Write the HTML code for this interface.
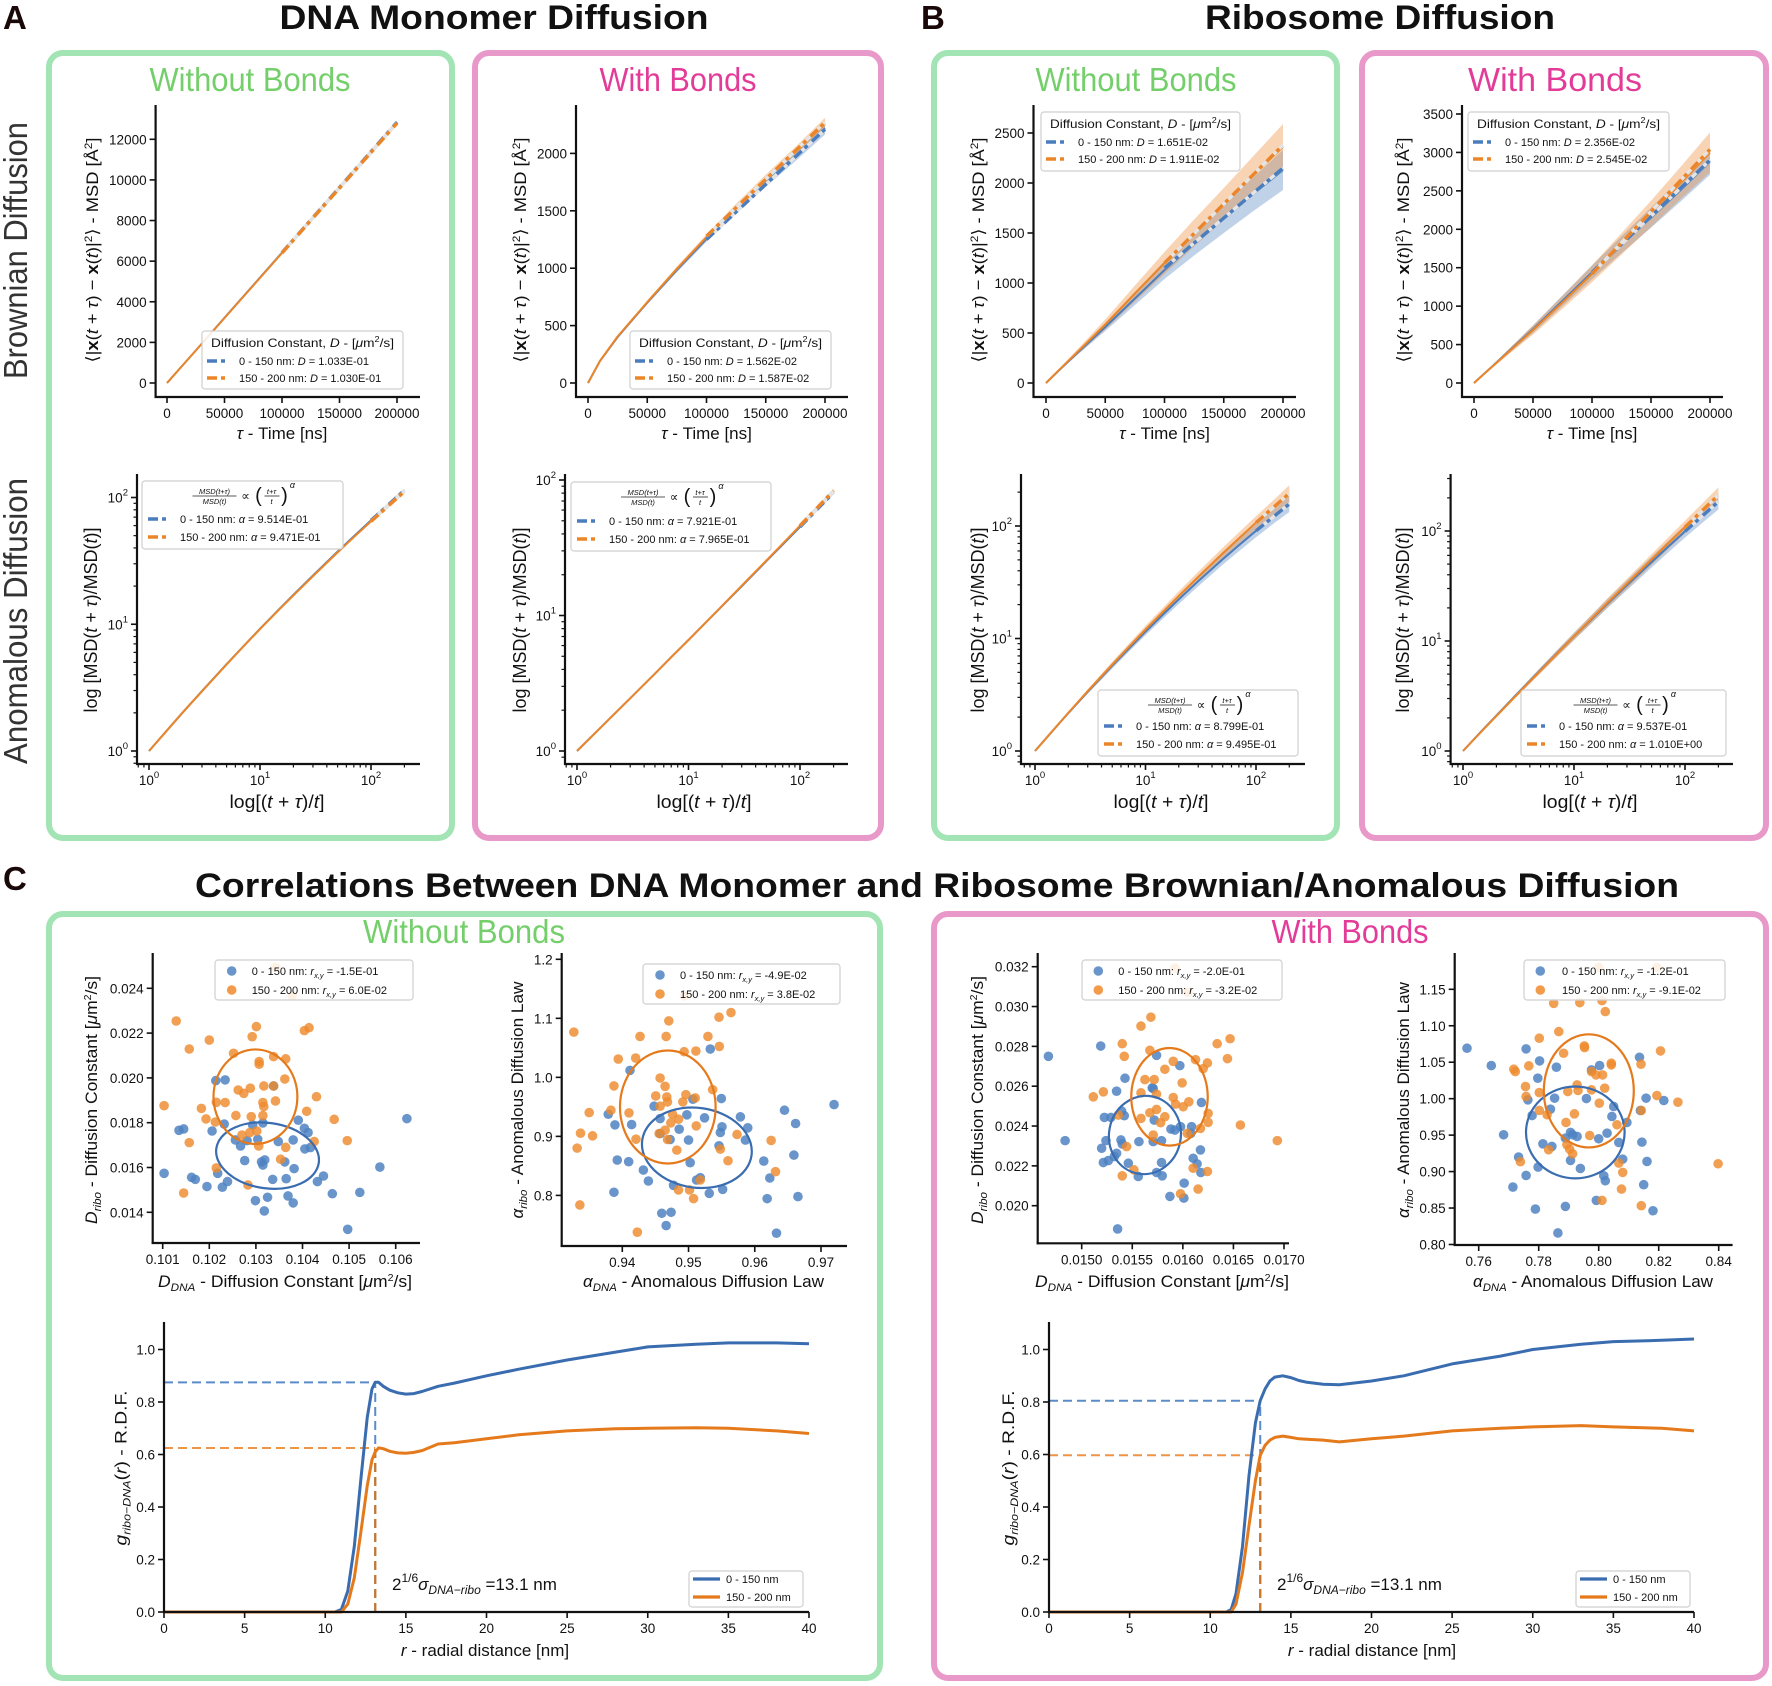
<!DOCTYPE html>
<html><head><meta charset="utf-8"><title>DNA Monomer and Ribosome Diffusion</title>
<style>
html,body{margin:0;padding:0;background:#fff;}
svg{display:block;font-family:"Liberation Sans","DejaVu Sans",sans-serif;}
</style></head>
<body>
<svg id="fig" xmlns="http://www.w3.org/2000/svg" width="1772" height="1686" viewBox="0 0 1772 1686">
<rect x="0" y="0" width="1772" height="1686" fill="#fff"/>
<g fill="none" stroke-width="6">
<rect x="49" y="53" width="403" height="785" rx="14" stroke="#a2e4b4"/>
<rect x="475" y="53" width="406" height="785" rx="14" stroke="#e898c9"/>
<rect x="934" y="53" width="403" height="785" rx="14" stroke="#a2e4b4"/>
<rect x="1362" y="53" width="404" height="785" rx="14" stroke="#e898c9"/>
<rect x="49" y="914" width="831" height="764" rx="14" stroke="#a2e4b4"/>
<rect x="934" y="914" width="832" height="764" rx="14" stroke="#e898c9"/>
</g>
<g font-weight="bold" fill="#111">
<text x="3" y="29" font-size="33" fill="#1a0808">A</text>
<text x="921" y="29" font-size="33" fill="#1a0808">B</text>
<text x="3" y="890" font-size="33" fill="#1a0808">C</text>
<text x="494" y="29" font-size="34" text-anchor="middle" textLength="429" lengthAdjust="spacingAndGlyphs">DNA Monomer Diffusion</text>
<text x="1380" y="29" font-size="34" text-anchor="middle" textLength="350" lengthAdjust="spacingAndGlyphs">Ribosome Diffusion</text>
<text x="937" y="897" font-size="34" text-anchor="middle" textLength="1484" lengthAdjust="spacingAndGlyphs">Correlations Between DNA Monomer and Ribosome Brownian/Anomalous Diffusion</text>
</g>
<g font-size="33">
<text x="250" y="91" text-anchor="middle" fill="#74cf6b" textLength="201" lengthAdjust="spacingAndGlyphs">Without Bonds</text>
<text x="678" y="91" text-anchor="middle" fill="#e23c98" textLength="157" lengthAdjust="spacingAndGlyphs">With Bonds</text>
<text x="1136" y="91" text-anchor="middle" fill="#74cf6b" textLength="201" lengthAdjust="spacingAndGlyphs">Without Bonds</text>
<text x="1555" y="91" text-anchor="middle" fill="#e23c98" textLength="174" lengthAdjust="spacingAndGlyphs">With Bonds</text>
<text x="464" y="943" text-anchor="middle" fill="#74cf6b" textLength="202" lengthAdjust="spacingAndGlyphs">Without Bonds</text>
<text x="1350" y="943" text-anchor="middle" fill="#e23c98" textLength="157" lengthAdjust="spacingAndGlyphs">With Bonds</text>
<text transform="translate(27,250.5) rotate(-90)" text-anchor="middle" fill="#333" textLength="257" lengthAdjust="spacingAndGlyphs">Brownian Diffusion</text>
<text transform="translate(27,621) rotate(-90)" text-anchor="middle" fill="#333" textLength="286" lengthAdjust="spacingAndGlyphs">Anomalous Diffusion</text>
</g>
<g id="charts"></g>
</svg>
<script>
// ---------- MSD (Brownian) data ----------
const msdT = [0, 10000, 25000, 50000, 75000, 100000, 125000, 150000, 175000, 200000];
const aNoBlue = [0, 640, 1600, 3210, 4815, 6420, 8025, 9630, 11235, 12840];
const aNoOrange = [0, 640, 1600, 3200, 4800, 6400, 8000, 9600, 11200, 12800];
const aNoSpread = [0, 5, 12, 25, 35, 45, 55, 65, 78, 90];
const aBdBlue = [0, 190, 400, 700, 985, 1255, 1510, 1750, 1980, 2220];
const aBdOrange = [0, 192, 405, 705, 995, 1270, 1530, 1775, 2010, 2255];
const aBdSpread = [0, 3, 7, 15, 20, 25, 32, 40, 47, 55];
const bNoBlue = [0, 115, 285, 560, 845, 1130, 1390, 1640, 1890, 2130];
const bNoOrange = [0, 118, 292, 585, 895, 1200, 1500, 1790, 2080, 2360];
const bNoBlueSpread = [0, 8, 20, 40, 65, 90, 115, 140, 170, 200];
const bNoOrangeSpread = [0, 10, 25, 50, 80, 110, 135, 160, 190, 230];
const bBdBlue = [0, 140, 350, 700, 1070, 1440, 1800, 2150, 2510, 2880];
const bBdOrange = [0, 138, 345, 690, 1050, 1420, 1810, 2200, 2600, 3000];
const bBdBlueSpread = [0, 10, 25, 50, 70, 90, 110, 130, 150, 170];
const bBdOrangeSpread = [0, 12, 30, 60, 85, 110, 140, 170, 210, 260];
const fitT = [100000, 200000];
const aNoFitB = [6420, 12840];
const aNoFitO = [6400, 12800];
const aBdFitB = [1250, 2210];
const aBdFitO = [1280, 2270];
const bNoFitB = [1150, 2150];
const bNoFitO = [1200, 2380];
const bBdFitB = [1440, 2900];
const bBdFitO = [1420, 3040];
const msdXTicks = [0, 50000, 100000, 150000, 200000];
const aNoYTicks = [0, 2000, 4000, 6000, 8000, 10000, 12000];
const aBdYTicks = [0, 500, 1000, 1500, 2000];
const bNoYTicks = [0, 500, 1000, 1500, 2000, 2500];
const bBdYTicks = [0, 500, 1000, 1500, 2000, 2500, 3000, 3500];
const dLabelsANo = ['1.033E-01', '1.030E-01'];
const dLabelsABd = ['1.562E-02', '1.587E-02'];
const dLabelsBNo = ['1.651E-02', '1.911E-02'];
const dLabelsBBd = ['2.356E-02', '2.545E-02'];

// ---------- Anomalous (log) data ----------
const logX = [1, 1.5, 2, 3, 5, 7, 10, 15, 20, 30, 50, 70, 100, 150, 200];
const aNoLogB = [1, 1.5, 2.0, 2.97, 4.84, 6.63, 9.2, 13.25, 17.08, 24.3, 37.4, 49.4, 66.0, 91.1, 114];
const aNoLogO = [1, 1.5, 2.0, 2.96, 4.82, 6.6, 9.15, 13.15, 16.9, 24.0, 36.9, 48.6, 64.8, 89.3, 111.5];
const aBdLogB = [1, 1.39, 1.76, 2.45, 3.72, 4.92, 6.6, 9.23, 11.73, 16.43, 25.2, 33.4, 45.1, 63.5, 81];
const aBdLogO = [1, 1.39, 1.76, 2.45, 3.72, 4.92, 6.6, 9.25, 11.79, 16.6, 25.45, 33.9, 46.0, 65.1, 83.4];
const bNoLogB = [1, 1.58, 2.17, 3.36, 5.73, 8.07, 11.5, 17.0, 22.3, 32.3, 50.7, 67.5, 90.7, 125.7, 157];
const bNoLogO = [1, 1.58, 2.18, 3.40, 5.85, 8.32, 12.0, 18.0, 23.9, 35.3, 57.1, 77.6, 106.9, 152.4, 195];
const bBdLogB = [1, 1.55, 2.10, 3.22, 5.45, 7.68, 11.0, 16.4, 21.8, 32.2, 52.2, 71.5, 99.2, 143, 185];
const bBdLogO = [1, 1.54, 2.08, 3.18, 5.40, 7.64, 11.0, 16.6, 22.2, 33.2, 55.1, 76.7, 108.6, 161, 212];
const logSpreadSmall = [1, 1.002, 1.003, 1.005, 1.007, 1.008, 1.01, 1.012, 1.013, 1.015, 1.018, 1.02, 1.02, 1.025, 1.03];
const logSpreadB = [1, 1.02, 1.03, 1.04, 1.06, 1.07, 1.08, 1.09, 1.1, 1.11, 1.12, 1.13, 1.14, 1.16, 1.18];
const logFitX = [100, 200];
const logMajor = [1, 10, 100];
const logMajorExp = ['0', '1', '2'];
const alphaANo = ['9.514E-01', '9.471E-01'];
const alphaABd = ['7.921E-01', '7.965E-01'];
const alphaBNo = ['8.799E-01', '9.495E-01'];
const alphaBBd = ['9.537E-01', '1.010E+00'];

// ---------- Scatter data (without bonds, D) ----------
const s1BlueX = [0.10103,0.10162,0.10170,0.10195,0.10228,0.10239,0.10218,0.10276,0.10312,0.10319,0.10315,0.10336,0.10365,0.10382,0.10362,0.10432,0.10445,0.10464,0.10523,0.10566,0.10299,0.10325,0.10369,0.10380,0.10318,0.10497,0.10624,0.10135,0.10145,0.10206,0.10232,0.10214,0.10234,0.10338,0.10267,0.10256,0.10304,0.10348,0.10380,0.10391,0.10404,0.10412,0.10405,0.10417,0.10315,0.10293,0.10281];
const s1BlueY = [0.01574,0.01556,0.01547,0.01515,0.01512,0.01537,0.01574,0.01631,0.01625,0.01634,0.01611,0.01547,0.01550,0.01595,0.01625,0.01537,0.01562,0.01483,0.01489,0.01602,0.01452,0.01467,0.01473,0.01442,0.01406,0.01324,0.01818,0.01766,0.01772,0.01763,0.01794,0.01988,0.01991,0.01964,0.01696,0.01723,0.01726,0.01716,0.01723,0.01811,0.01775,0.01756,0.01683,0.01689,0.01799,0.01790,0.01720];
const s1OrangeX = [0.10129,0.10157,0.10200,0.10292,0.10301,0.10404,0.10414,0.10252,0.10338,0.10364,0.10307,0.10307,0.10362,0.10317,0.10338,0.10262,0.10274,0.10288,0.10215,0.10234,0.10315,0.10317,0.10342,0.10430,0.10103,0.10183,0.10193,0.10213,0.10257,0.10290,0.10315,0.10409,0.10468,0.10496,0.10270,0.10287,0.10302,0.10157,0.10425,0.10306,0.10364,0.10353,0.10215,0.10283,0.10145,0.10343,0.10378];
const s1OrangeY = [0.02254,0.02129,0.02169,0.02184,0.02229,0.02211,0.02224,0.02110,0.02095,0.02085,0.02073,0.02061,0.01995,0.01964,0.01964,0.01946,0.01931,0.01954,0.01891,0.01890,0.01890,0.01872,0.01897,0.01916,0.01876,0.01864,0.01817,0.01803,0.01832,0.01827,0.01832,0.01851,0.01815,0.01720,0.01745,0.01756,0.01763,0.01711,0.01716,0.01696,0.01690,0.01637,0.01598,0.01522,0.01486,0.02494,0.02367];
const s1Ellipses = [[0.10325, 0.01653, 0.00111, 0.00146, 8], [0.10299, 0.01916, 0.00090, 0.00211, 0]];
const s1Corr = ['-1.5E-01', '6.0E-02'];
const s1XTicks = [0.101, 0.102, 0.103, 0.104, 0.105, 0.106];
const s1YTicks = [0.014, 0.016, 0.018, 0.020, 0.022, 0.024];

// ---------- Scatter data (without bonds, alpha) ----------
const s2BlueX = [0.97197,0.96449,0.96616,0.95783,0.95894,0.95859,0.96591,0.96136,0.96227,0.96652,0.96187,0.96328,0.95495,0.95505,0.95480,0.95460,0.95242,0.94975,0.95000,0.95025,0.95066,0.94480,0.94571,0.94859,0.94722,0.94571,0.94141,0.93889,0.93788,0.94116,0.95328,0.93924,0.94096,0.94318,0.94394,0.93874,0.94773,0.95121,0.95177,0.95515,0.95313,0.94596,0.94737,0.94662];
const s2BlueY = [0.9539,0.9443,0.9218,0.9331,0.9145,0.8937,0.8683,0.8582,0.8295,0.7980,0.7945,0.7360,0.9641,0.9162,0.9066,0.8841,0.9314,0.9365,0.8937,0.8554,0.9630,0.9511,0.9302,0.9122,0.8947,0.9048,0.9200,0.9195,0.9375,1.0118,1.0480,0.8599,0.8571,0.8430,0.8244,0.8053,0.8171,0.8261,0.8300,0.8103,0.8035,0.7697,0.7714,0.7489];
const s2OrangeX = [0.93268,0.94268,0.94662,0.94702,0.95460,0.95641,0.95293,0.95465,0.94934,0.95111,0.93939,0.94202,0.93874,0.94571,0.94646,0.94505,0.94672,0.94960,0.95101,0.95364,0.94914,0.94571,0.94682,0.93828,0.94101,0.93500,0.93369,0.93551,0.93318,0.94207,0.94556,0.94646,0.94682,0.94823,0.94758,0.94848,0.94732,0.95116,0.95732,0.96247,0.95596,0.95480,0.96313,0.95177,0.94848,0.95015,0.95076,0.93359,0.94227,0.94939];
const s2OrangeY = [1.0766,1.0693,1.0693,1.0957,1.1019,1.1098,1.0693,1.0524,1.0434,1.0446,1.0310,1.0327,0.9855,0.9989,0.9848,0.9685,0.9668,0.9707,0.9651,0.9792,0.9584,0.9511,0.9584,0.9443,0.9398,0.9403,0.9054,0.9009,0.8801,0.8953,0.9048,0.9105,0.8947,0.8767,0.9375,0.9291,0.9229,0.9178,0.9032,0.8931,0.8587,0.8784,0.8402,0.8261,0.8092,0.8092,0.7945,0.7838,0.7377,1.1380];
const s2Ellipses = [[0.95126, 0.8807, 0.00833, 0.0676, 8], [0.94687, 0.9498, 0.00722, 0.0957, 0]];
const s2Corr = ['-4.9E-02', '3.8E-02'];
const s2XTicks = [0.94, 0.95, 0.96, 0.97];
const s2YTicks = [0.8, 0.9, 1.0, 1.1, 1.2];

// ---------- Scatter data (with bonds, D) ----------
const s3BlueX = [0.014671,0.014836,0.015188,0.015428,0.015740,0.015970,0.015345,0.015707,0.016184,0.015395,0.015224,0.015289,0.015421,0.015240,0.015388,0.015401,0.015197,0.015345,0.015214,0.015263,0.015322,0.015461,0.015566,0.015707,0.015789,0.015717,0.015882,0.015921,0.015977,0.016086,0.016079,0.016174,0.016102,0.016141,0.016178,0.015559,0.015740,0.015796,0.015789,0.016013,0.015872,0.016010,0.015355,0.015697];
const s3BlueY = [0.027500,0.023267,0.028017,0.026400,0.027550,0.027033,0.025750,0.025883,0.025183,0.024750,0.024433,0.024433,0.024517,0.023267,0.023300,0.023100,0.022883,0.022633,0.022167,0.022267,0.022467,0.022133,0.023217,0.023217,0.023267,0.024300,0.023850,0.023800,0.023967,0.023967,0.023633,0.022800,0.022383,0.022100,0.021667,0.021467,0.021667,0.021500,0.022167,0.021133,0.020467,0.020383,0.018833,0.025917];
const s3OrangeX = [0.015684,0.015586,0.015401,0.015421,0.015674,0.015905,0.016125,0.016243,0.016339,0.016467,0.016441,0.016201,0.015822,0.015625,0.015717,0.015993,0.015740,0.015905,0.015928,0.016003,0.016059,0.015586,0.015214,0.015115,0.015362,0.015674,0.015740,0.015822,0.015780,0.015586,0.016250,0.016250,0.016174,0.016043,0.015707,0.016569,0.016934,0.015444,0.015516,0.015401,0.016102,0.016243,0.016151,0.015977,0.015921,0.016053];
const s3OrangeY = [0.029467,0.029017,0.028133,0.027500,0.027800,0.027250,0.027333,0.027167,0.028133,0.028383,0.027383,0.026883,0.026850,0.026333,0.026333,0.026167,0.025600,0.025433,0.025100,0.024967,0.025217,0.025667,0.025717,0.025467,0.024550,0.024667,0.024833,0.024467,0.024167,0.024383,0.024633,0.024183,0.023883,0.023633,0.023550,0.024050,0.023267,0.022967,0.021800,0.021500,0.021883,0.021717,0.020833,0.020600,0.031933,0.030717];
const s3Ellipses = [[0.015625, 0.02355, 0.000355, 0.00197, 10], [0.015868, 0.025467, 0.000378, 0.00245, 0]];
const s3Corr = ['-2.0E-01', '-3.2E-02'];
const s3XTicks = [0.0150, 0.0155, 0.0160, 0.0165, 0.0170];
const s3YTicks = [0.020, 0.022, 0.024, 0.026, 0.028, 0.030, 0.032];

// ---------- Scatter data (with bonds, alpha) ----------
const s4BlueX = [0.7561,0.7642,0.7758,0.7803,0.7859,0.8003,0.7976,0.7797,0.7764,0.7853,0.7959,0.7839,0.7778,0.7683,0.7814,0.7844,0.7906,0.7913,0.7928,0.7889,0.8000,0.8028,0.8044,0.8050,0.8094,0.8067,0.8136,0.8158,0.8217,0.8139,0.8144,0.8161,0.8080,0.7906,0.7939,0.7798,0.7733,0.7758,0.7714,0.8017,0.8022,0.8150,0.7992,0.7789,0.7889,0.8181,0.7864];
const s4BlueY = [1.0692,1.0454,1.0683,1.0518,1.0432,1.0454,1.0395,1.0281,0.9984,1.0007,1.0002,0.9856,0.9769,0.9505,0.9381,0.9345,0.9537,0.9505,0.9482,0.9459,0.9450,0.9527,0.9756,0.9893,0.9674,0.9400,1.0568,1.0007,0.9975,0.9838,0.9404,0.9139,0.9171,0.9153,0.9043,0.9062,0.9199,0.8947,0.8788,0.8943,0.8874,0.8820,0.8605,0.8486,0.8523,0.8463,0.8158];
const s4OrangeX = [0.7850,0.7937,0.8011,0.8022,0.7867,0.7802,0.7952,0.7953,0.7883,0.8042,0.8042,0.8141,0.8206,0.7717,0.7722,0.7767,0.7976,0.7991,0.8013,0.7756,0.7758,0.7802,0.7897,0.7928,0.7931,0.7976,0.8020,0.8002,0.7802,0.7828,0.7919,0.7891,0.8061,0.7970,0.8142,0.8194,0.8264,0.7833,0.7894,0.7903,0.7913,0.7739,0.8067,0.8080,0.8076,0.8011,0.8142,0.8398,0.8000,0.8194];
const s4OrangeY = [1.1308,1.1317,1.1345,1.1194,1.0920,1.0829,1.0724,1.0701,1.0623,1.0486,1.0463,1.0473,1.0655,1.0404,1.0372,1.0450,1.0372,1.0326,1.0326,1.0167,1.0030,1.0084,1.0098,1.0189,1.0112,1.0121,1.0144,0.9938,0.9838,0.9779,0.9792,0.9674,0.9642,0.9495,0.9838,1.0043,0.9952,0.9299,0.9368,0.9308,0.9244,0.9135,0.9116,0.8989,0.8760,0.8605,0.8532,0.9107,1.1801,1.1801];
const s4Ellipses = [[0.7922, 0.9537, 0.01644, 0.063, 0], [0.7967, 1.0107, 0.0150, 0.0776, 0]];
const s4Corr = ['-1.2E-01', '-9.1E-02'];
const s4XTicks = [0.76, 0.78, 0.80, 0.82, 0.84];
const s4YTicks = [0.80, 0.85, 0.90, 0.95, 1.00, 1.05, 1.10, 1.15];

// ---------- RDF data ----------
const rdfR1 = [0,10,10.6,11,11.4,11.8,12.2,12.6,12.9,13.1,13.3,13.6,14,14.5,15,15.5,16,17,18,20,22,25,28,30,33,35,38,40];
const rdfBlue1 = [0,0,0,0.01,0.08,0.25,0.5,0.74,0.85,0.875,0.875,0.86,0.845,0.835,0.83,0.832,0.84,0.86,0.872,0.90,0.925,0.96,0.99,1.01,1.02,1.025,1.025,1.022];
const rdfOrange1 = [0,0,0,0,0.03,0.13,0.3,0.48,0.58,0.61,0.625,0.622,0.612,0.606,0.605,0.608,0.615,0.64,0.645,0.66,0.675,0.69,0.698,0.70,0.702,0.70,0.69,0.68];
const rdfR2 = [0,10,11,11.3,11.6,12,12.4,12.8,13.1,13.4,13.7,14,14.5,15,15.5,16,17,18,20,22,25,28,30,33,35,38,40];
const rdfBlue2 = [0,0,0,0.01,0.07,0.25,0.52,0.72,0.805,0.85,0.88,0.895,0.9,0.893,0.882,0.875,0.868,0.866,0.88,0.90,0.945,0.975,1.0,1.02,1.03,1.035,1.04];
const rdfOrange2 = [0,0,0,0,0.03,0.15,0.33,0.5,0.597,0.635,0.655,0.665,0.67,0.665,0.66,0.658,0.655,0.648,0.66,0.67,0.69,0.70,0.705,0.71,0.705,0.70,0.69];
const rdfContact = 13.1;
const rdfPeaks1 = [0.875, 0.625];
const rdfPeaks2 = [0.805, 0.597];
const rdfXTicks = [0, 5, 10, 15, 20, 25, 30, 35, 40];
const rdfYTicks = [0, 0.2, 0.4, 0.6, 0.8, 1.0];

// ================= drawing =================
const NS = 'http://www.w3.org/2000/svg';
const root = document.getElementById('charts');
const BLUE = '#4a7dbd', ORANGE = '#ec8527', BLUE_D = '#3a6cb0', ORANGE_D = '#e57a1c';

function mk(parent, tag, attrs, name) {
  const e = document.createElementNS(NS, tag);
  for (const k in attrs) e.setAttribute(k, attrs[k]);
  
  
  parent.appendChild(e);
  return e;
}
function txt(parent, x, y, html, o, name) {
  const e = mk(parent, 'text', {x: x, y: y, 'font-size': o.size || 13.5, 'text-anchor': o.anchor || 'middle', fill: o.fill || '#111'}, name);
  if (o.rot) e.setAttribute('transform', 'rotate(-90 ' + x + ' ' + y + ')');
  if (o.len) { e.setAttribute('textLength', o.len); e.setAttribute('lengthAdjust', 'spacingAndGlyphs'); }
  if (o.style) e.setAttribute('font-style', o.style);
  e.innerHTML = html;
  return e;
}
function lin(d0, d1, p0, p1) { return v => p0 + (v - d0) * (p1 - p0) / (d1 - d0); }
function logm(p0, p10) { return v => p0 + Math.log10(v) * (p10 - p0); }
function fmt(v, d) { return v.toFixed(d); }

function axes(g, c) {
  mk(g, 'line', {x1: c.spineX, y1: c.top, x2: c.spineX, y2: c.axisY + 1, stroke: '#111', 'stroke-width': 2.2}, 'y-axis-line');
  mk(g, 'line', {x1: c.spineX - 1, y1: c.axisY, x2: c.right, y2: c.axisY, stroke: '#111', 'stroke-width': 2.2}, 'x-axis-line');
  c.xt.forEach((v, i) => {
    const x = c.sx(v);
    mk(g, 'line', {x1: x, y1: c.axisY, x2: x, y2: c.axisY + 6, stroke: '#111', 'stroke-width': 1.6}, 'x-tick');
    txt(g, x, c.axisY + 21, c.xl[i], {size: c.fs || 13.5}, 'x-tick-label');
  });
  c.yt.forEach((v, i) => {
    const y = c.sy(v);
    mk(g, 'line', {x1: c.spineX - 6, y1: y, x2: c.spineX, y2: y, stroke: '#111', 'stroke-width': 1.6}, 'y-tick');
    txt(g, c.spineX - 9, y + 5, c.yl[i], {size: c.fs || 13.5, anchor: 'end'}, 'y-tick-label');
  });
  if (c.minorX) c.minorX.forEach(v => {
    const x = c.sx(v);
    if (x > c.spineX && x < c.right) mk(g, 'line', {x1: x, y1: c.axisY, x2: x, y2: c.axisY + 3.5, stroke: '#111', 'stroke-width': 1.2}, 'x-minor-tick');
  });
  if (c.minorY) c.minorY.forEach(v => {
    const y = c.sy(v);
    if (y > c.top && y < c.axisY) mk(g, 'line', {x1: c.spineX - 3.5, y1: y, x2: c.spineX, y2: y, stroke: '#111', 'stroke-width': 1.2}, 'y-minor-tick');
  });
}
function pts(xs, ys, sx, sy) { return xs.map((v, i) => sx(v).toFixed(1) + ',' + sy(ys[i]).toFixed(1)).join(' '); }
function band(g, xs, mean, spread, sx, sy, color, mult, name) {
  const up = mean.map((m, i) => mult ? m * spread[i] : m + spread[i]);
  const lo = mean.map((m, i) => mult ? m / spread[i] : m - spread[i]);
  const p = pts(xs, up, sx, sy) + ' ' + pts(xs.slice().reverse(), lo.slice().reverse(), sx, sy);
  mk(g, 'polygon', {points: p, fill: color, 'fill-opacity': 0.35, stroke: 'none'}, name);
}
function line(g, xs, ys, sx, sy, color, w, name) {
  return mk(g, 'polyline', {points: pts(xs, ys, sx, sy), fill: 'none', stroke: color, 'stroke-width': w, 'stroke-linejoin': 'round'}, name);
}
function fitLine(g, xs, ys, sx, sy, color, name) {
  mk(g, 'polyline', {points: pts(xs, ys, sx, sy), fill: 'none', stroke: '#e4e4e4', 'stroke-width': 3.4}, name + '-underlay');
  mk(g, 'polyline', {points: pts(xs, ys, sx, sy), fill: 'none', stroke: color, 'stroke-width': 3.4, 'stroke-dasharray': '10,4,4,6'}, name);
}
function legendBox(g, x, y, w, h) {
  mk(g, 'rect', {x: x, y: y, width: w, height: h, rx: 3, fill: '#fff', 'fill-opacity': 0.85, stroke: '#cfcfcf', 'stroke-width': 1.2}, 'legend-box');
}
function legendDash(g, x, y, color) {
  mk(g, 'line', {x1: x, y1: y, x2: x + 24, y2: y, stroke: color, 'stroke-width': 3.4, 'stroke-dasharray': '10,4,4,6'}, 'legend-line');
}

const minorLog = [0.8,0.9,2,3,4,5,6,7,8,9,20,30,40,50,60,70,80,90,200,300];

function msdPanel(id, L, blue, orange, bs, os, fitB, fitO, yt, dl, lg) {
  const g = mk(root, 'g', {}, id);
  const sx = lin(0, 200000, L.x0, L.x1), sy = lin(0, L.yv, L.y0, L.y1);
  band(g, msdT, blue, bs, sx, sy, BLUE, false, 'blue-trajectory-spread');
  band(g, msdT, orange, os, sx, sy, ORANGE, false, 'orange-trajectory-spread');
  line(g, msdT, blue, sx, sy, BLUE, 2, 'blue-msd-line');
  line(g, msdT, orange, sx, sy, ORANGE, 2, 'orange-msd-line');
  fitLine(g, fitT, fitB, sx, sy, BLUE, 'blue-fit-line');
  fitLine(g, fitT, fitO, sx, sy, ORANGE, 'orange-fit-line');
  axes(g, {sx: sx, sy: sy, spineX: L.spine, axisY: 397, top: 105, right: L.right, xt: msdXTicks, xl: msdXTicks.map(String), yt: yt, yl: yt.map(String)});
  txt(g, (L.x0 + L.x1) / 2, 439, '<tspan font-style="italic">τ</tspan> - Time [ns]', {size: 17}, 'x-axis-title');
  txt(g, L.ylab + 6, 250, '⟨|<tspan font-weight="bold">x</tspan>(<tspan font-style="italic">t</tspan> + <tspan font-style="italic">τ</tspan>) − <tspan font-weight="bold">x</tspan>(<tspan font-style="italic">t</tspan>)|<tspan dy="-6" font-size="11">2</tspan><tspan dy="6">⟩ - MSD [Å</tspan><tspan dy="-6" font-size="11">2</tspan><tspan dy="6">]</tspan>', {size: 17, rot: true, len: 225}, 'y-axis-title');
  legendBox(g, lg[0], lg[1], lg[2], lg[3]);
  txt(g, lg[0] + lg[2] / 2, lg[1] + 16, 'Diffusion Constant, <tspan font-style="italic">D</tspan> - [<tspan font-style="italic">μ</tspan>m<tspan dy="-5" font-size="8">2</tspan><tspan dy="5">/s]</tspan>', {size: 12, len: lg[2] - 18}, 'legend-title');
  legendDash(g, lg[0] + 5, lg[1] + 30, BLUE);
  txt(g, lg[0] + 37, lg[1] + 34, '0 - 150 nm:  <tspan font-style="italic">D</tspan> = ' + dl[0], {size: 11, anchor: 'start'}, 'legend-entry-0-150');
  legendDash(g, lg[0] + 5, lg[1] + 47, ORANGE);
  txt(g, lg[0] + 37, lg[1] + 51, '150 - 200 nm:  <tspan font-style="italic">D</tspan> = ' + dl[1], {size: 11, anchor: 'start'}, 'legend-entry-150-200');
}

msdPanel('a-without-bonds-msd-chart', {x0: 167, x1: 397, y0: 383, y1: 139.3, yv: 12000, spine: 155.6, right: 420, ylab: 92}, aNoBlue, aNoOrange, aNoSpread, aNoSpread, aNoFitB, aNoFitO, aNoYTicks, dLabelsANo, [202, 331, 201, 58]);
msdPanel('a-with-bonds-msd-chart', {x0: 588, x1: 825, y0: 383, y1: 153.4, yv: 2000, spine: 576, right: 848, ylab: 520}, aBdBlue, aBdOrange, aBdSpread, aBdSpread, aBdFitB, aBdFitO, aBdYTicks, dLabelsABd, [630, 331, 201, 58]);
msdPanel('b-without-bonds-msd-chart', {x0: 1046, x1: 1283, y0: 383, y1: 133, yv: 2500, spine: 1033.5, right: 1296, ylab: 978}, bNoBlue, bNoOrange, bNoBlueSpread, bNoOrangeSpread, bNoFitB, bNoFitO, bNoYTicks, dLabelsBNo, [1041, 112, 199, 59]);
msdPanel('b-with-bonds-msd-chart', {x0: 1474, x1: 1710, y0: 383, y1: 114, yv: 3500, spine: 1462, right: 1723, ylab: 1403}, bBdBlue, bBdOrange, bBdBlueSpread, bBdOrangeSpread, bBdFitB, bBdFitO, bBdYTicks, dLabelsBBd, [1468, 112, 201, 59]);

function logPanel(id, L, blue, orange, spread, al, lg, fy) {
  const g = mk(root, 'g', {}, id);
  const sx = logm(L.x0, L.x10), sy = logm(L.y0, L.y10);
  band(g, logX, blue, spread, sx, sy, BLUE, true, 'blue-trajectory-spread');
  band(g, logX, orange, spread, sx, sy, ORANGE, true, 'orange-trajectory-spread');
  line(g, logX, blue, sx, sy, BLUE, 2, 'blue-log-line');
  line(g, logX, orange, sx, sy, ORANGE, 2, 'orange-log-line');
  const n = logX.length;
  fitLine(g, logFitX, [blue[n - 3], blue[n - 1]], sx, sy, BLUE, 'blue-fit-line');
  fitLine(g, logFitX, [orange[n - 3], orange[n - 1]], sx, sy, ORANGE, 'orange-fit-line');
  const lab = logMajorExp.map(e => '10<tspan dy="-7" font-size="9.5">' + e + '</tspan>');
  axes(g, {sx: sx, sy: sy, spineX: L.spine, axisY: 764, top: 474, right: L.right, xt: logMajor, xl: lab, yt: logMajor, yl: lab, minorX: minorLog, minorY: minorLog});
  txt(g, L.xlab, 808, 'log[(<tspan font-style="italic">t</tspan> + <tspan font-style="italic">τ</tspan>)/<tspan font-style="italic">t</tspan>]', {size: 18.5, len: 95}, 'x-axis-title');
  txt(g, L.ylab + 6, 620, 'log [MSD(<tspan font-style="italic">t</tspan> + <tspan font-style="italic">τ</tspan>)/MSD(<tspan font-style="italic">t</tspan>)]', {size: 18, rot: true, len: 185}, 'y-axis-title');
  legendBox(g, lg[0], lg[1], lg[2], lg[3]);
  const cx = lg[0] + lg[2] / 2, cy = fy;
  txt(g, cx - 28, cy - 2, 'MSD(t+τ)', {size: 7.5, style: 'italic'}, 'legend-formula-numerator');
  mk(g, 'line', {x1: cx - 50, y1: cy, x2: cx - 6, y2: cy, stroke: '#222', 'stroke-width': 0.8}, 'legend-formula-bar');
  txt(g, cx - 28, cy + 8, 'MSD(t)', {size: 7.5, style: 'italic'}, 'legend-formula-denominator');
  txt(g, cx + 3, cy + 4, '∝', {size: 12}, 'legend-formula-proportional');
  txt(g, cx + 16, cy + 6, '(', {size: 20}, 'legend-formula-paren');
  txt(g, cx + 29, cy - 2, 't+τ', {size: 7.5, style: 'italic'}, 'legend-formula-numerator');
  mk(g, 'line', {x1: cx + 22, y1: cy, x2: cx + 37, y2: cy, stroke: '#222', 'stroke-width': 0.8}, 'legend-formula-bar');
  txt(g, cx + 29, cy + 8, 't', {size: 7.5, style: 'italic'}, 'legend-formula-denominator');
  txt(g, cx + 42, cy + 6, ')', {size: 20}, 'legend-formula-paren');
  txt(g, cx + 50, cy - 8, 'α', {size: 9, style: 'italic'}, 'legend-formula-exponent');
  legendDash(g, lg[0] + 6, lg[1] + lg[3] - 30, BLUE);
  txt(g, lg[0] + 38, lg[1] + lg[3] - 26, '0 - 150 nm:  <tspan font-style="italic">α</tspan> = ' + al[0], {size: 11, anchor: 'start'}, 'legend-entry-0-150');
  legendDash(g, lg[0] + 6, lg[1] + lg[3] - 12, ORANGE);
  txt(g, lg[0] + 38, lg[1] + lg[3] - 8, '150 - 200 nm:  <tspan font-style="italic">α</tspan> = ' + al[1], {size: 11, anchor: 'start'}, 'legend-entry-150-200');
}

logPanel('a-without-bonds-log-chart', {x0: 149, x10: 260, y0: 751, y10: 624.25, spine: 137, right: 420, xlab: 277, ylab: 91}, aNoLogB, aNoLogO, logSpreadSmall, alphaANo, [142, 481, 201, 68], 496);
logPanel('a-with-bonds-log-chart', {x0: 577, x10: 688.5, y0: 751, y10: 615.5, spine: 565, right: 848, xlab: 704, ylab: 520}, aBdLogB, aBdLogO, logSpreadSmall, alphaABd, [571, 482, 200, 69], 497);
logPanel('b-without-bonds-log-chart', {x0: 1035, x10: 1145.5, y0: 751, y10: 638.5, spine: 1021, right: 1305, xlab: 1161, ylab: 978}, bNoLogB, bNoLogO, logSpreadB, alphaBNo, [1098, 690, 200, 66], 705);
logPanel('b-with-bonds-log-chart', {x0: 1463, x10: 1574, y0: 751, y10: 641, spine: 1450.6, right: 1733, xlab: 1590, ylab: 1403}, bBdLogB, bBdLogO, logSpreadB, alphaBBd, [1521, 690, 205, 66], 705);

function scatterPanel(id, L, bx, by, ox, oy, ell, corr, xt, xd, yt, yd, xlabel, ylabel, lg) {
  const g = mk(root, 'g', {}, id);
  const sx = lin(L.xa, L.xb, L.pxa, L.pxb), sy = lin(L.ya, L.yb, L.pya, L.pyb);
  bx.forEach((v, i) => {
    mk(g, 'circle', {cx: sx(v), cy: sy(by[i]), r: 4.8, fill: '#4f83c2', 'fill-opacity': 0.85}, 'blue-point');
  });
  ox.forEach((v, i) => {
    mk(g, 'circle', {cx: sx(v), cy: sy(oy[i]), r: 4.8, fill: '#ee8a2c', 'fill-opacity': 0.82}, 'orange-point');
  });
  const cols = [BLUE_D, ORANGE_D];
  ell.forEach((e, i) => {
    const cx = sx(e[0]), cy = sy(e[1]);
    mk(g, 'ellipse', {cx: cx, cy: cy, rx: Math.abs(sx(e[0] + e[2]) - cx), ry: Math.abs(sy(e[1] + e[3]) - cy), fill: 'none', stroke: cols[i], 'stroke-width': 2.2, transform: 'rotate(' + e[4] + ' ' + cx + ' ' + cy + ')'}, i ? 'orange-confidence-ellipse' : 'blue-confidence-ellipse');
  });
  axes(g, {sx: sx, sy: sy, spineX: L.spine, axisY: L.axisY, top: 953, right: L.right, xt: xt, xl: xt.map(v => fmt(v, xd)), yt: yt, yl: yt.map(v => fmt(v, yd))});
  txt(g, L.xlabX, 1287, xlabel, {size: 16.5, len: L.xlabLen}, 'x-axis-title');
  txt(g, L.ylabX + 6, 1100, ylabel, {size: 16.5, rot: true, len: L.ylabLen}, 'y-axis-title');
  legendBox(g, lg[0], lg[1], lg[2], 40);
  mk(g, 'circle', {cx: lg[0] + lg[3], cy: lg[1] + 11, r: 4.8, fill: '#4f83c2', 'fill-opacity': 0.85}, 'legend-marker-blue');
  mk(g, 'circle', {cx: lg[0] + lg[3], cy: lg[1] + 30, r: 4.8, fill: '#ee8a2c', 'fill-opacity': 0.85}, 'legend-marker-orange');
  const rr = '<tspan font-style="italic">r</tspan><tspan font-size="7.5" dy="3" font-style="italic">x,y</tspan><tspan dy="-3"> = ';
  txt(g, lg[0] + lg[4], lg[1] + 15, '0 - 150 nm:  ' + rr + corr[0] + '</tspan>', {size: 11, anchor: 'start'}, 'legend-entry-0-150');
  txt(g, lg[0] + lg[4], lg[1] + 34, '150 - 200 nm:  ' + rr + corr[1] + '</tspan>', {size: 11, anchor: 'start'}, 'legend-entry-150-200');
}
const dLab = (d) => '<tspan font-style="italic">D</tspan><tspan font-size="11" dy="4" font-style="italic">' + d + '</tspan><tspan dy="-4"> - Diffusion Constant [</tspan><tspan font-style="italic">μ</tspan>m<tspan dy="-6" font-size="10">2</tspan><tspan dy="6">/s]</tspan>';
const aLab = (d) => '<tspan font-style="italic">α</tspan><tspan font-size="11" dy="4" font-style="italic">' + d + '</tspan><tspan dy="-4"> - Anomalous Diffusion Law</tspan>';

scatterPanel('c-without-bonds-d-scatter', {xa: 0.101, xb: 0.106, pxa: 162.7, pxb: 395.7, ya: 0.014, yb: 0.024, pya: 1212.3, pyb: 988.3, spine: 152.7, axisY: 1243, right: 420, xlabX: 285, xlabLen: 254, ylabX: 91, ylabLen: 248},
  s1BlueX, s1BlueY, s1OrangeX, s1OrangeY, s1Ellipses, s1Corr, s1XTicks, 3, s1YTicks, 3, dLab('DNA'), dLab('ribo'), [215, 960, 198, 16.7, 36.7]);
scatterPanel('c-without-bonds-alpha-scatter', {xa: 0.94, xb: 0.97, pxa: 622.3, pxb: 821, ya: 0.8, yb: 1.2, pya: 1195.4, pyb: 959.3, spine: 561.7, axisY: 1246, right: 847, xlabX: 703.5, xlabLen: 241, ylabX: 517, ylabLen: 237},
  s2BlueX, s2BlueY, s2OrangeX, s2OrangeY, s2Ellipses, s2Corr, s2XTicks, 2, s2YTicks, 1, aLab('DNA'), aLab('ribo'), [643, 964, 197, 17, 37]);
scatterPanel('c-with-bonds-d-scatter', {xa: 0.015, xb: 0.017, pxa: 1081.7, pxb: 1284, ya: 0.020, yb: 0.032, pya: 1205.7, pyb: 966.7, spine: 1037.7, axisY: 1243.3, right: 1289, xlabX: 1162, xlabLen: 254, ylabX: 977, ylabLen: 248},
  s3BlueX, s3BlueY, s3OrangeX, s3OrangeY, s3Ellipses, s3Corr, s3XTicks, 4, s3YTicks, 3, dLab('DNA'), dLab('ribo'), [1082, 960, 200, 16.3, 36.3]);
scatterPanel('c-with-bonds-alpha-scatter', {xa: 0.76, xb: 0.84, pxa: 1478.7, pxb: 1718.7, ya: 0.80, yb: 1.15, pya: 1244.5, pyb: 989.3, spine: 1454.7, axisY: 1245, right: 1732.6, xlabX: 1593, xlabLen: 240, ylabX: 1403, ylabLen: 236},
  s4BlueX, s4BlueY, s4OrangeX, s4OrangeY, s4Ellipses, s4Corr, s4XTicks, 2, s4YTicks, 2, aLab('DNA'), aLab('ribo'), [1524, 960, 201, 16.3, 38]);

function rdfPanel(id, L, r, blue, orange, peaks, lg) {
  const g = mk(root, 'g', {}, id);
  const sx = lin(0, 40, L.x0, L.x40), sy = lin(0, 1, 1612, 1349.5);
  const cols = ['#5b8bc9', '#ee9447'];
  peaks.forEach((p, i) => {
    mk(g, 'line', {x1: sx(0), y1: sy(p), x2: sx(rdfContact), y2: sy(p), stroke: cols[i], 'stroke-width': 2, 'stroke-dasharray': '9,5'}, i ? 'orange-peak-guide' : 'blue-peak-guide');
  });
  mk(g, 'line', {x1: sx(rdfContact), y1: sy(0), x2: sx(rdfContact), y2: sy(peaks[0]), stroke: '#5b8bc9', 'stroke-width': 2, 'stroke-dasharray': '9,5'}, 'contact-distance-guide-blue');
  mk(g, 'line', {x1: sx(rdfContact), y1: sy(0), x2: sx(rdfContact), y2: sy(peaks[1]), stroke: '#c9762a', 'stroke-width': 2.2, 'stroke-dasharray': '9,5'}, 'contact-distance-guide-orange');
  line(g, r, blue, sx, sy, BLUE_D, 3, 'rdf-0-150-line');
  line(g, r, orange, sx, sy, ORANGE_D, 3, 'rdf-150-200-line');
  axes(g, {sx: sx, sy: sy, spineX: L.x0, axisY: 1612, top: 1322, right: L.x40, xt: rdfXTicks, xl: rdfXTicks.map(String), yt: rdfYTicks, yl: rdfYTicks.map(v => fmt(v, 1))});
  txt(g, L.xlab, 1656, '<tspan font-style="italic">r</tspan> - radial distance [nm]', {size: 17}, 'x-axis-title');
  txt(g, L.ylab + 6, 1468, '<tspan font-style="italic">g</tspan><tspan font-size="11" dy="4" font-style="italic">ribo−DNA</tspan><tspan dy="-4">(</tspan><tspan font-style="italic">r</tspan>) - R.D.F.', {size: 17, rot: true, len: 155}, 'y-axis-title');
  txt(g, L.ann, 1590, '2<tspan dy="-8" font-size="12">1/6</tspan><tspan dy="8" font-style="italic">σ</tspan><tspan font-size="12" dy="4" font-style="italic">DNA−ribo</tspan><tspan dy="-4"> =13.1 nm</tspan>', {size: 17, anchor: 'start'}, 'contact-distance-annotation');
  legendBox(g, lg, 1571, 114, 36);
  mk(g, 'line', {x1: lg + 4, y1: 1579, x2: lg + 31, y2: 1579, stroke: BLUE_D, 'stroke-width': 3.2}, 'legend-line-blue');
  mk(g, 'line', {x1: lg + 4, y1: 1597, x2: lg + 31, y2: 1597, stroke: ORANGE_D, 'stroke-width': 3.2}, 'legend-line-orange');
  txt(g, lg + 37, 1583, '0 - 150 nm', {size: 11, anchor: 'start'}, 'legend-entry-0-150');
  txt(g, lg + 37, 1601, '150 - 200 nm', {size: 11, anchor: 'start'}, 'legend-entry-150-200');
}
rdfPanel('c-without-bonds-rdf-chart', {x0: 164, x40: 809, xlab: 485, ylab: 120.5, ann: 392}, rdfR1, rdfBlue1, rdfOrange1, rdfPeaks1, 689);
rdfPanel('c-with-bonds-rdf-chart', {x0: 1049, x40: 1694, xlab: 1372, ylab: 1008, ann: 1277}, rdfR2, rdfBlue2, rdfOrange2, rdfPeaks2, 1576);
</script>
</body></html>
